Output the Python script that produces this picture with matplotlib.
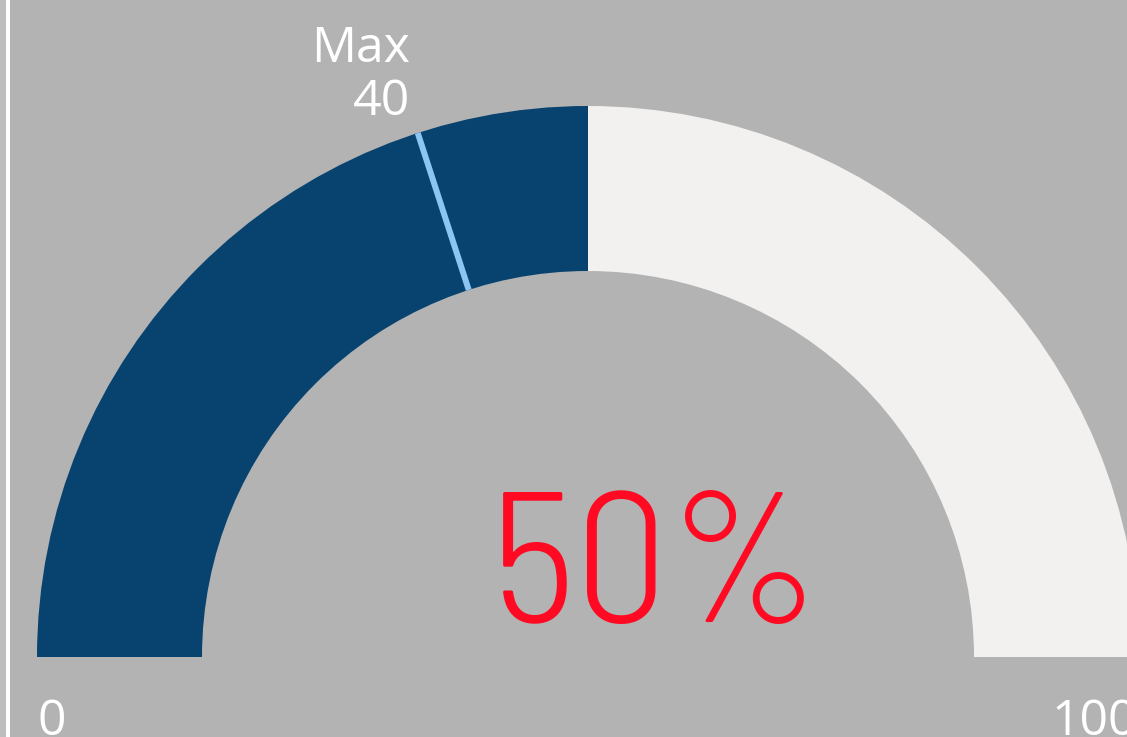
import matplotlib
matplotlib.use("Agg")
import matplotlib.pyplot as plt
from matplotlib.patches import Wedge, Rectangle
import numpy as np

# data
gauge_min = 0
gauge_max = 100
value = 50
max_marker = 40
value_label = "50%"
marker_label = "Max"

BG = "#b3b3b3"
DARK = "#08436f"
LIGHT = "#f2f1f0"
MARK = "#8cc5f2"
RED = "#ff0a22"

W, H = 1127, 737
fig = plt.figure(figsize=(W / 100, H / 100), dpi=100)
fig.patch.set_facecolor(BG)
ax = fig.add_axes([0, 0, 1, 1])
ax.set_xlim(0, W)
ax.set_ylim(H, 0)
ax.axis("off")
ax.set_facecolor(BG)

cx, cy = 588, 657
R_out, ring = 551, 165


def val_to_deg(v):
    return 180 - 180 * (v - gauge_min) / (gauge_max - gauge_min)


def wedge(v0, v1, color):
    a0, a1 = val_to_deg(v0), val_to_deg(v1)
    return Wedge((cx, cy), R_out, -a0, -a1, width=ring, facecolor=color,
                 edgecolor="none")


ax.add_patch(wedge(gauge_min, value, DARK))
ax.add_patch(wedge(value, gauge_max, LIGHT))

ang = np.deg2rad(val_to_deg(max_marker))
r_in = R_out - ring
ax.plot([cx + r_in * np.cos(ang), cx + R_out * np.cos(ang)],
        [cy - r_in * np.sin(ang), cy - R_out * np.sin(ang)],
        color=MARK, lw=4.3, solid_capstyle="butt")

# left border strip
ax.add_patch(Rectangle((0, 0), 6, H, facecolor="#bebebe", edgecolor="none"))
ax.add_patch(Rectangle((6, 0), 4, H, facecolor="white", edgecolor="none"))

lab_font = "Open Sans"
ax.text(410, 62, marker_label, ha="right", va="baseline",
        fontsize=36, color="white", family=lab_font)
ax.text(410, 115, f"{max_marker}", ha="right", va="baseline",
        fontsize=36, color="white", family=lab_font)
ax.text(38, 735, f"{gauge_min}", ha="left", va="baseline", fontsize=36,
        color="white", family=lab_font)
ax.text(1051, 735, f"{gauge_max}", ha="left", va="baseline", fontsize=36,
        color="white", family=lab_font)

ax.text(656, 622, value_label, ha="center", va="baseline", fontsize=134,
        color=RED, family=["Barlow Semi Condensed", "DejaVu Sans"],
        fontweight=300)

fig.savefig("out.png", dpi=100, facecolor=BG)
